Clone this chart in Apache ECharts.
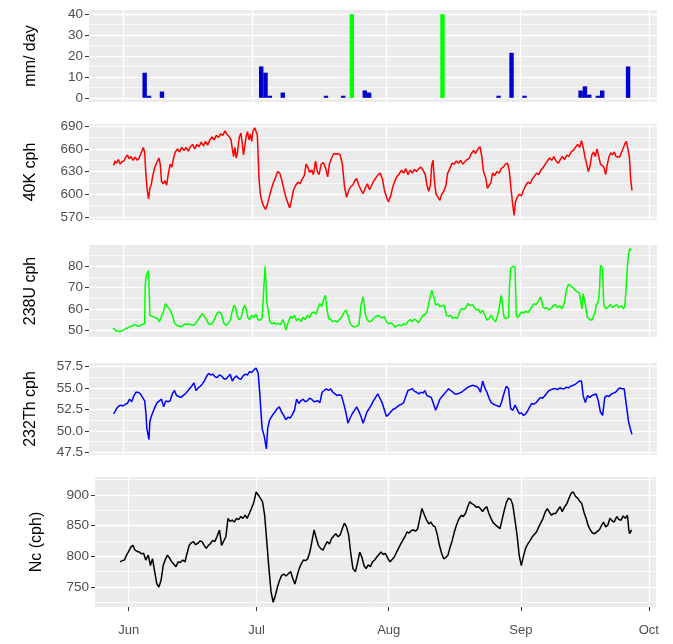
<!DOCTYPE html>
<html><head><meta charset="utf-8">
<script src="https://cdn.jsdelivr.net/npm/echarts@6/dist/echarts.min.js"></script>
<style>html,body{margin:0;padding:0;background:#fff}#c{width:673px;height:644px}</style>
</head><body><div id="c"></div>
<script>
// x values are days since 1 June
const monthTickDays = [0, 30, 61, 92, 122];
const monthLabels = ['Jun', 'Jul', 'Aug', 'Sep', 'Oct'];

const panelTitles = ['mm/ day', '40K cph', '238U cph', '232Th cph', 'Nc (cph)'];
const yTicks = [[0,10,20,30,40],[570,600,630,660,690],[50,60,70,80],[47.5,50,52.5,55,57.5],[750,800,850,900]];
const yMinorTicks = [[-5,5,15,25,35,45],[555,585,615,645,675,705],[45,55,65,75,85],[48.75,51.25,53.75,56.25],[725,775,825,875,925]];
const yLimits = [[-2,42],[566,693],[46.8,90],[47.2,57.9],[717.4,929.4]];
const yDigits = [0,0,0,1,0];

// rainfall (mm/day)
const rainDays   = [5, 6, 9, 32, 33, 34, 37, 47, 51, 56, 57, 87, 90, 93, 106, 107, 108, 110, 111, 117];
const rainValues = [12, 1, 3, 15, 12, 1, 2.5, 1, 1, 3.5, 2.5, 1, 21.5, 1, 3.5, 5.5, 1.5, 1, 3.5, 15];
// marker bars
const markDays   = [53, 74];
const markValues = [40, 40];

const k40 = [[-2.2,638],[-1.9,644],[-1.5,641],[-1.1,646],[-0.7,640],[-0.3,643],[0.2,644],[0.6,649],[1.0,652],[1.4,647],[1.8,650],[2.3,645],[2.8,649],[3.3,645],[3.7,648],[4.2,655],[4.7,662],[5.0,655],[5.3,625],[5.6,605],[5.9,594],[6.2,608],[6.5,612],[6.9,625],[7.3,635],[7.8,642],[8.3,648],[8.6,640],[8.9,617],[9.3,614],[9.7,618],[10.1,612],[10.5,628],[10.9,640],[11.3,636],[11.7,648],[12.1,656],[12.6,660],[13.1,656],[13.6,662],[14.1,658],[14.6,662],[15.1,657],[15.6,663],[16.1,666],[16.6,660],[17.1,666],[17.6,663],[18.1,669],[18.6,664],[19.1,670],[19.6,665],[20.1,672],[20.6,676],[21.1,672],[21.6,678],[22.1,675],[22.6,680],[23.1,678],[23.6,684],[24.1,679],[24.6,676],[25.0,672],[25.3,660],[25.6,650],[25.9,662],[26.2,648],[26.5,655],[26.9,675],[27.3,681],[27.6,668],[27.9,652],[28.2,650],[28.5,676],[28.8,683],[29.2,672],[29.5,680],[29.8,670],[30.1,684],[30.5,688],[30.9,686],[31.1,678],[31.3,650],[31.5,620],[31.8,600],[32.2,590],[32.6,584],[33.0,580],[33.4,586],[33.8,595],[34.3,606],[34.8,615],[35.3,622],[35.8,630],[36.3,628],[36.7,620],[37.2,608],[37.7,596],[38.2,588],[38.6,582],[39.0,592],[39.5,606],[40.0,612],[40.5,616],[41.0,614],[41.5,620],[42.0,625],[42.4,640],[42.8,636],[43.2,629],[43.7,632],[44.1,626],[44.6,644],[45.0,630],[45.4,626],[45.9,640],[46.4,642],[46.9,635],[47.4,623],[47.8,640],[48.3,648],[48.8,654],[49.3,653],[49.8,654],[50.3,652],[50.8,640],[51.3,610],[51.8,596],[52.2,604],[52.7,610],[53.2,612],[53.7,618],[54.1,621],[54.6,612],[55.1,606],[55.6,601],[56.1,608],[56.6,614],[57.1,606],[57.6,612],[58.1,618],[58.6,622],[59.1,626],[59.6,628],[60.1,620],[60.6,604],[61.1,595],[61.5,590],[62.0,598],[62.5,610],[63.0,618],[63.5,624],[64.0,627],[64.5,632],[65.0,628],[65.5,634],[66.0,626],[66.5,632],[67.0,628],[67.5,633],[68.0,630],[68.5,634],[69.0,636],[69.5,632],[70.0,626],[70.4,612],[70.8,604],[71.2,612],[71.5,638],[71.8,645],[72.1,620],[72.5,600],[73.0,596],[73.4,592],[73.8,600],[74.3,604],[74.8,612],[75.2,628],[75.7,634],[76.2,641],[76.7,640],[77.2,644],[77.7,641],[78.2,645],[78.7,640],[79.2,643],[79.7,646],[80.2,648],[80.7,654],[81.2,658],[81.7,654],[82.2,660],[82.7,663],[83.1,650],[83.5,630],[84.0,622],[84.4,608],[84.8,606],[85.2,615],[85.6,628],[86.1,625],[86.6,630],[87.1,628],[87.6,634],[88.1,636],[88.6,640],[89.1,641],[89.5,630],[89.9,606],[90.3,585],[90.6,572],[90.9,590],[91.3,596],[91.8,600],[92.3,598],[92.8,606],[93.3,612],[93.8,616],[94.3,614],[94.8,620],[95.3,624],[95.8,628],[96.3,626],[96.8,632],[97.3,635],[97.8,640],[98.3,644],[98.8,648],[99.3,645],[99.8,650],[100.3,644],[100.8,641],[101.3,646],[101.8,650],[102.3,646],[102.8,652],[103.3,650],[103.8,656],[104.3,658],[104.8,662],[105.3,666],[105.8,662],[106.2,671],[106.6,662],[107.0,650],[107.4,640],[107.8,630],[108.2,638],[108.6,652],[109.0,656],[109.4,650],[109.8,660],[110.2,650],[110.6,640],[111.0,642],[111.4,636],[111.8,626],[112.2,640],[112.6,650],[113.0,655],[113.4,652],[113.8,656],[114.2,650],[114.6,652],[115.0,649],[115.4,650],[115.8,660],[116.2,666],[116.6,670],[117.0,672],[117.3,650],[117.6,620],[117.9,605]];

const u238 = [[-2.2,51.0],[-1.8,50.0],[-1.5,49.2],[-1.0,49.4],[-0.5,49.6],[0.0,49.9],[0.5,50.6],[1.0,51.0],[1.5,51.6],[2.0,51.8],[2.5,52.6],[3.0,52.3],[3.5,51.8],[4.0,52.2],[4.5,52.8],[5.0,53.0],[5.1,70.0],[5.3,75.0],[5.6,77.0],[5.9,78.0],[6.1,65.0],[6.2,57.0],[6.4,57.8],[6.8,56.5],[7.3,56.0],[7.9,55.5],[8.4,54.0],[8.9,56.5],[9.4,59.0],[9.8,62.5],[10.1,61.5],[10.5,60.5],[10.9,59.4],[11.4,57.0],[11.9,53.5],[12.4,52.3],[12.9,52.0],[13.4,51.5],[13.9,52.3],[14.4,53.0],[14.9,52.6],[15.4,53.0],[15.9,52.4],[16.4,52.3],[16.9,53.5],[17.4,55.0],[17.9,56.5],[18.4,57.8],[18.8,57.0],[19.3,55.0],[19.8,53.0],[20.3,52.6],[20.8,53.5],[21.3,56.0],[21.8,58.0],[22.3,58.6],[22.8,57.5],[23.3,53.5],[23.8,52.3],[24.3,53.0],[24.8,54.5],[25.3,59.0],[25.7,61.7],[26.1,60.5],[26.4,57.0],[26.8,55.0],[27.3,55.5],[27.8,60.0],[28.2,61.7],[28.5,60.0],[28.9,56.0],[29.3,55.0],[29.8,57.0],[30.3,56.0],[30.8,57.5],[31.2,55.0],[31.7,54.7],[32.2,55.5],[32.4,62.0],[32.6,70.0],[32.9,80.0],[33.1,72.0],[33.3,63.0],[33.6,62.5],[33.8,57.0],[34.0,54.0],[34.5,53.0],[35.0,53.5],[35.5,52.8],[36.0,53.2],[36.5,52.6],[37.0,55.0],[37.4,53.0],[37.7,50.0],[38.0,52.0],[38.3,54.0],[38.8,56.5],[39.2,55.5],[39.7,57.0],[40.2,54.5],[40.7,55.5],[41.2,54.0],[41.7,56.0],[42.2,55.0],[42.7,57.0],[43.2,56.0],[43.7,58.0],[44.2,58.6],[44.7,57.5],[45.1,60.0],[45.6,62.5],[46.0,61.0],[46.4,64.0],[46.9,66.4],[47.1,62.0],[47.4,58.0],[47.6,55.5],[48.1,55.0],[48.6,54.0],[49.1,54.5],[49.6,53.8],[50.1,55.0],[50.6,56.0],[51.1,58.0],[51.6,59.4],[52.1,57.0],[52.6,53.0],[53.1,52.0],[53.6,51.5],[54.1,51.8],[54.6,52.5],[54.9,57.0],[55.1,61.7],[55.4,64.0],[55.6,65.6],[55.9,61.0],[56.1,57.8],[56.5,55.0],[57.0,54.0],[57.5,54.2],[58.0,55.5],[58.5,56.4],[59.0,57.0],[59.5,56.4],[60.0,55.8],[60.5,56.4],[61.0,54.0],[61.5,53.0],[62.0,53.4],[62.5,52.8],[63.0,51.5],[63.5,52.0],[64.0,52.6],[64.5,52.0],[65.0,53.0],[65.5,52.6],[66.0,54.0],[66.5,55.0],[67.0,54.0],[67.5,55.2],[68.0,54.5],[68.5,53.5],[69.0,55.5],[69.5,57.0],[70.0,57.5],[70.4,58.6],[70.9,63.3],[71.2,66.0],[71.5,68.8],[71.9,68.5],[72.2,64.0],[72.4,61.7],[72.9,62.5],[73.4,61.0],[73.9,61.5],[74.4,61.7],[74.9,57.0],[75.4,56.5],[75.9,57.0],[76.4,55.5],[76.9,56.0],[77.4,55.5],[77.9,58.0],[78.4,60.2],[78.9,59.8],[79.4,60.5],[79.9,62.5],[80.4,61.5],[80.9,62.0],[81.3,61.0],[81.8,59.4],[82.3,60.0],[82.8,58.0],[83.3,59.4],[83.8,57.0],[84.3,54.7],[84.8,55.5],[85.3,57.0],[85.8,55.0],[86.3,54.0],[86.8,57.0],[87.3,62.5],[87.6,66.4],[87.9,63.0],[88.1,58.0],[88.3,56.0],[88.8,55.5],[89.3,56.0],[89.5,70.0],[89.8,79.0],[90.3,80.0],[90.8,79.5],[91.0,65.0],[91.1,57.0],[91.5,56.0],[91.8,55.5],[92.3,58.6],[92.8,58.0],[93.3,59.0],[93.8,58.2],[94.2,58.6],[94.7,61.0],[95.2,62.5],[95.7,62.0],[96.2,63.5],[96.7,65.6],[97.0,64.0],[97.2,61.0],[97.7,60.2],[98.2,60.5],[98.7,59.5],[99.2,60.2],[99.7,61.7],[100.2,62.0],[100.7,60.5],[101.2,61.5],[101.7,60.0],[102.2,62.5],[102.5,66.0],[102.8,69.5],[103.2,71.5],[103.7,71.0],[104.2,70.0],[104.7,68.8],[105.2,68.0],[105.7,67.5],[106.0,67.2],[106.3,60.0],[106.6,67.2],[106.9,64.0],[107.1,62.0],[107.4,58.0],[107.6,56.0],[108.1,55.0],[108.6,54.7],[109.1,57.0],[109.4,59.0],[109.6,61.7],[110.1,63.3],[110.4,70.0],[110.6,80.5],[110.9,80.0],[111.1,79.0],[111.3,65.0],[111.4,61.7],[111.9,60.0],[112.4,61.0],[112.9,62.0],[113.4,60.5],[113.9,61.5],[114.4,62.0],[114.9,60.5],[115.4,61.5],[115.9,60.0],[116.2,61.0],[116.5,68.0],[116.8,79.0],[117.1,86.0],[117.4,88.3],[117.7,87.5]];

const th232 = [[-2.2,52.0],[-1.8,52.3],[-1.5,52.6],[-1.0,52.9],[-0.5,53.0],[0.0,52.9],[0.5,53.1],[1.0,53.2],[1.5,53.7],[2.0,53.4],[2.5,54.1],[3.0,54.5],[3.5,54.5],[4.0,54.3],[4.5,53.9],[5.0,53.5],[5.3,52.0],[5.5,50.3],[6.0,49.0],[6.2,51.1],[6.6,51.8],[6.9,52.0],[7.4,52.8],[7.9,53.3],[8.4,53.5],[8.9,53.7],[9.4,52.8],[9.9,53.5],[10.4,53.4],[10.9,53.5],[11.4,54.3],[11.9,54.7],[12.4,54.1],[12.9,54.0],[13.4,53.9],[13.9,54.1],[14.4,54.3],[14.9,54.6],[15.4,54.9],[15.9,55.2],[16.4,55.6],[16.9,54.7],[17.4,55.0],[17.9,55.2],[18.4,55.5],[18.8,55.8],[19.3,56.3],[19.8,56.7],[20.3,56.5],[20.8,56.6],[21.3,56.3],[21.8,56.2],[22.3,56.5],[22.8,56.4],[23.3,56.1],[23.8,56.0],[24.3,56.3],[24.8,56.6],[25.3,55.8],[25.8,56.2],[26.3,56.4],[26.8,56.1],[27.3,56.0],[27.8,56.4],[28.3,56.6],[28.8,56.5],[29.3,56.9],[29.8,56.8],[30.3,57.1],[30.8,57.3],[31.3,56.7],[31.7,54.1],[32.2,50.3],[32.7,49.4],[33.0,48.5],[33.2,47.9],[33.5,50.3],[33.9,51.2],[34.2,51.5],[34.7,51.9],[35.2,52.2],[35.7,52.6],[36.2,52.8],[36.7,52.2],[37.2,51.8],[37.7,51.3],[38.2,51.6],[38.7,51.5],[39.2,51.9],[39.7,52.4],[40.2,53.7],[40.7,53.2],[41.2,53.5],[41.7,53.7],[42.2,53.4],[42.7,53.5],[43.2,53.8],[43.7,53.7],[44.2,53.4],[44.6,53.3],[45.1,53.5],[45.6,53.3],[46.1,54.5],[46.6,54.7],[47.1,54.9],[47.6,54.7],[48.1,54.9],[48.6,54.5],[49.1,54.3],[49.6,54.1],[50.1,54.2],[50.6,54.1],[51.1,53.2],[51.6,52.2],[52.1,50.9],[52.6,51.5],[53.1,52.0],[53.6,52.4],[54.1,52.8],[54.6,52.3],[55.1,51.7],[55.6,50.9],[56.1,51.6],[56.5,52.2],[57.0,52.6],[57.5,53.0],[58.0,53.5],[58.5,53.9],[59.0,54.3],[59.5,53.8],[60.0,53.3],[60.5,52.5],[61.0,51.7],[61.5,51.9],[62.0,52.2],[62.5,52.5],[63.0,52.6],[63.5,52.8],[64.0,53.0],[64.5,53.1],[65.0,53.3],[65.5,54.0],[66.0,54.7],[66.5,54.8],[67.0,54.9],[67.5,54.6],[68.0,54.5],[68.5,54.3],[69.0,54.5],[69.5,54.4],[69.9,54.7],[70.4,54.1],[70.9,54.0],[71.4,53.9],[71.9,53.2],[72.4,52.4],[72.9,53.0],[73.4,53.7],[73.9,54.0],[74.4,54.3],[74.9,54.6],[75.4,54.9],[75.9,54.7],[76.4,54.5],[76.9,54.3],[77.4,54.3],[77.9,54.4],[78.4,54.5],[78.9,54.7],[79.4,54.9],[79.9,55.1],[80.4,55.2],[80.9,55.3],[81.3,55.4],[81.8,55.2],[82.3,55.0],[82.8,54.5],[83.3,55.8],[83.8,55.0],[84.3,54.5],[84.8,53.8],[85.3,53.3],[85.8,53.1],[86.3,53.0],[86.8,52.9],[87.3,52.8],[87.7,53.4],[88.1,54.1],[88.5,54.8],[88.8,55.2],[89.3,54.9],[89.8,52.6],[90.3,52.4],[90.8,53.0],[91.3,52.5],[91.8,52.0],[92.3,52.1],[92.8,51.8],[93.3,52.0],[93.8,52.4],[94.2,52.8],[94.7,53.2],[95.2,53.1],[95.7,53.3],[96.2,53.6],[96.7,53.9],[97.2,53.8],[97.7,54.1],[98.2,54.4],[98.7,54.7],[99.2,54.8],[99.7,54.9],[100.2,54.9],[100.7,54.8],[101.2,55.0],[101.7,54.9],[102.2,54.9],[102.7,55.1],[103.2,55.0],[103.7,55.2],[104.2,55.3],[104.7,55.4],[105.2,55.6],[105.7,55.8],[106.2,55.8],[106.6,54.1],[107.1,53.3],[107.6,54.1],[108.1,53.9],[108.6,54.1],[109.1,54.2],[109.6,54.3],[110.1,53.5],[110.6,52.2],[111.1,51.8],[111.6,53.9],[112.1,54.1],[112.6,54.0],[113.1,54.3],[113.6,54.4],[114.1,54.5],[114.6,54.8],[115.1,55.0],[115.6,54.9],[116.1,54.9],[116.6,53.0],[117.1,51.1],[117.6,50.1],[117.9,49.6]];

const nc = [[-2.0,791],[-1.5,793],[-1.0,794],[-0.5,802],[0.0,808],[0.5,815],[1.0,818],[1.5,810],[2.0,808],[2.5,807],[3.0,804],[3.5,805],[4.0,794],[4.6,802],[5.1,785],[5.6,796],[6.1,775],[6.6,755],[7.1,750],[7.6,761],[8.1,785],[8.6,795],[9.1,802],[9.6,797],[10.1,791],[10.6,787],[11.1,783],[11.6,791],[12.1,790],[12.7,794],[13.2,791],[13.7,805],[14.2,818],[14.7,822],[15.2,824],[15.7,819],[16.2,821],[16.7,825],[17.2,824],[17.7,818],[18.2,813],[18.7,818],[19.2,821],[19.7,826],[20.2,824],[20.7,832],[21.3,843],[21.8,818],[22.3,825],[22.8,832],[23.3,862],[23.8,857],[24.3,859],[24.8,856],[25.3,862],[25.8,860],[26.3,865],[26.8,862],[27.3,867],[27.8,862],[28.3,870],[28.8,878],[29.4,889],[29.9,905],[30.4,900],[30.9,895],[31.4,889],[31.9,867],[32.4,824],[32.9,780],[33.4,742],[33.9,725],[34.4,736],[34.9,750],[35.4,761],[35.9,769],[36.4,771],[36.9,768],[37.5,772],[38.0,775],[38.5,764],[39.0,755],[39.5,768],[40.0,780],[40.5,788],[41.0,794],[41.5,793],[42.0,796],[42.5,807],[43.0,825],[43.5,843],[44.0,830],[44.5,818],[45.0,813],[45.6,810],[46.1,818],[46.6,824],[47.1,820],[47.6,829],[48.1,833],[48.6,837],[49.1,832],[49.6,835],[50.1,845],[50.6,854],[51.1,848],[51.6,835],[52.1,805],[52.6,780],[53.2,775],[53.7,790],[54.2,807],[54.7,799],[55.2,785],[55.7,780],[56.2,786],[56.7,783],[57.2,791],[57.7,794],[58.2,799],[58.7,803],[59.2,807],[59.7,803],[60.2,805],[60.7,798],[61.3,791],[61.8,795],[62.3,799],[62.8,806],[63.3,813],[63.8,820],[64.3,826],[64.8,832],[65.3,840],[65.8,838],[66.3,842],[66.8,843],[67.3,841],[67.8,845],[68.3,862],[68.8,878],[69.4,867],[69.9,859],[70.4,853],[70.9,856],[71.4,850],[71.9,848],[72.4,835],[72.9,818],[73.4,805],[73.9,796],[74.4,798],[74.9,802],[75.4,815],[75.9,826],[76.4,840],[76.9,851],[77.4,860],[78.0,867],[78.5,865],[79.0,870],[79.5,880],[80.0,889],[80.5,886],[81.0,884],[81.5,880],[82.0,881],[82.5,878],[83.0,873],[83.5,878],[84.0,881],[84.5,870],[85.0,862],[85.5,855],[86.1,851],[86.6,848],[87.1,845],[87.6,860],[88.1,875],[88.6,888],[89.1,895],[89.6,893],[90.1,884],[90.6,860],[91.1,835],[91.6,802],[92.1,785],[92.6,800],[93.1,813],[93.6,820],[94.2,826],[94.7,832],[95.2,836],[95.7,840],[96.2,848],[96.7,855],[97.2,862],[97.7,872],[98.2,878],[98.7,872],[99.2,867],[99.7,870],[100.2,870],[100.7,876],[101.2,881],[101.7,873],[102.2,880],[102.8,886],[103.3,895],[103.8,903],[104.3,905],[104.8,898],[105.3,895],[105.8,890],[106.3,886],[106.8,872],[107.3,862],[107.8,850],[108.3,843],[108.8,838],[109.3,837],[109.8,840],[110.4,843],[110.9,850],[111.4,856],[111.9,848],[112.4,851],[112.9,862],[113.4,858],[113.9,856],[114.5,865],[115.0,860],[115.5,859],[116.0,866],[116.5,862],[117.0,867],[117.3,845],[117.5,837],[118.0,843]];

const lineSeries = [k40, u238, th232, nc];
const lineColors = ['#FF0000', '#00FF00', '#0000FF', '#000000'];

const grids = [
  {left: 89, right: 16, top: 10, height: 92},
  {left: 89, right: 16, top: 124, height: 96},
  {left: 89, right: 16, top: 245, height: 92},
  {left: 89, right: 16, top: 363, height: 92},
  {left: 95, right: 17, top: 477, height: 130}
];

const FONT = '"Liberation Sans", Arial, sans-serif';
const xAxes = [], yAxes = [], series = [];
for (let i = 0; i < 5; i++) {
  const last = i === 4;
  xAxes.push({
    gridIndex: i, type: 'value', min: -7.9, max: 123.7,
    axisLine: {show: false, onZero: false},
    axisTick: {show: last, customValues: monthTickDays, length: 4, lineStyle: {color: '#333', width: 1}},
    axisLabel: {show: last, customValues: monthTickDays, margin: 17, color: '#4D4D4D', fontSize: 13, fontFamily: FONT,
      formatter: v => monthLabels[monthTickDays.indexOf(v)] || ''},
    splitLine: {show: true, customValues: monthTickDays, lineStyle: {color: '#FFFFFF', width: 1.3}}
  });
  yAxes.push({
    gridIndex: i, type: 'value', min: yLimits[i][0], max: yLimits[i][1],
    name: panelTitles[i], nameLocation: 'middle', nameRotate: 90, nameGap: 50,
    nameTextStyle: {fontSize: 16, color: '#000', fontFamily: FONT},
    axisLine: {show: false, onZero: false},
    axisTick: {show: true, customValues: yTicks[i], length: 4, lineStyle: {color: '#333', width: 1}},
    axisLabel: {customValues: yTicks[i], margin: 6, color: '#4D4D4D', fontSize: 13.5, fontFamily: FONT,
      formatter: v => Number(v).toFixed(yDigits[i])},
    splitLine: {show: true, customValues: yTicks[i], lineStyle: {color: '#FFFFFF', width: 1.3}}
  });
  yAxes.push({
    gridIndex: i, type: 'value', min: yLimits[i][0], max: yLimits[i][1], position: 'left',
    axisLine: {show: false, onZero: false},
    axisTick: {show: false, customValues: yMinorTicks[i]},
    axisLabel: {show: false, customValues: yMinorTicks[i]},
    splitLine: {show: true, customValues: yMinorTicks[i], lineStyle: {color: '#FFFFFF', width: 0.7}}
  });
}

series.push({
  type: 'bar', xAxisIndex: 0, yAxisIndex: 0, barWidth: 4.4, barGap: '-100%',
  itemStyle: {color: '#0000CD'},
  data: rainDays.map((d, k) => [d, rainValues[k]])
});
series.push({
  type: 'bar', xAxisIndex: 0, yAxisIndex: 0, barWidth: 4.4, barGap: '-100%',
  itemStyle: {color: '#00FF00'},
  data: markDays.map((d, k) => [d, markValues[k]])
});
lineSeries.forEach((s, k) => {
  series.push({
    type: 'line', xAxisIndex: k + 1, yAxisIndex: 2 * (k + 1), showSymbol: false, symbol: 'none',
    lineStyle: {color: lineColors[k], width: 1.5}, itemStyle: {color: lineColors[k]},
    data: s
  });
});

const chart = echarts.init(document.getElementById('c'), null, {renderer: 'canvas'});
chart.setOption({
  animation: false,
  backgroundColor: '#FFFFFF',
  grid: grids.map(g => Object.assign({show: true, backgroundColor: '#EBEBEB', borderWidth: 0}, g)),
  xAxis: xAxes,
  yAxis: yAxes,
  series: series
});
</script>
</body></html>
